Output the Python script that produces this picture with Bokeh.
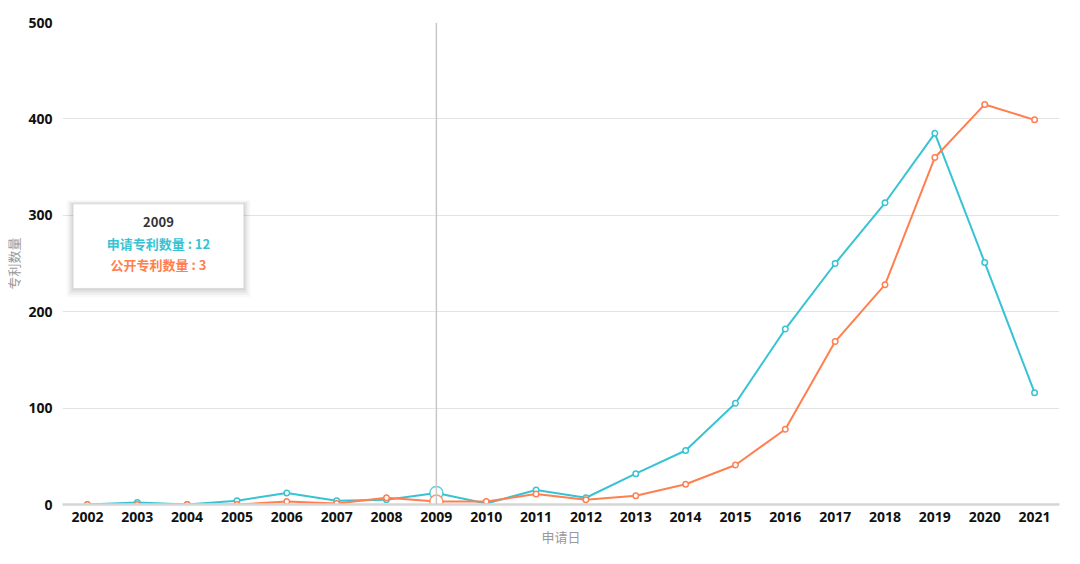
from bokeh.plotting import figure
from bokeh.models import ColumnDataSource, FixedTicker, Range1d, BoxAnnotation, Span, Label
from bokeh.embed import file_html
from bokeh.resources import INLINE

years = list(range(2002, 2022))
apply_counts = [0, 2, 0, 4, 12, 4, 5, 12, 1, 15, 7, 32, 56, 105, 182, 250, 313, 385, 251, 116]
publish_counts = [0, 0, 0, 0, 3, 1, 7, 3, 3, 11, 5, 9, 21, 41, 78, 169, 228, 360, 415, 399]
series_names = ["申请专利数量", "公开专利数量"]
y_ticks = [0, 100, 200, 300, 400, 500]
hover_year = 2009
x_title = "申请日"
y_title = "专利数量"

BLUE = "#37c3d3"
ORANGE = "#ff7f50"
FONT = "Noto Sans CJK SC"
NUM_FONT = "Open Sans"

p = figure(width=1064, height=548, output_backend="svg", toolbar_location=None,
           x_range=Range1d(2001.5, 2021.5), y_range=Range1d(0, 500),
           min_border_left=62, min_border_right=5, min_border_top=22, min_border_bottom=30)
p.outline_line_color = None
p.background_fill_color = "white"
p.border_fill_color = "white"

# x axis
p.xaxis.ticker = FixedTicker(ticks=years)
p.xaxis.major_label_overrides = {y: str(y) for y in years}
p.xaxis.axis_line_color = "#d6d6d6"
p.xaxis.axis_line_width = 2.5
p.xaxis.major_tick_line_color = None
p.xaxis.minor_tick_line_color = None
p.xaxis.major_tick_out = 0
p.xaxis.major_tick_in = 0
p.xaxis.minor_tick_out = 0
p.xaxis.major_label_text_font = NUM_FONT
p.xaxis.major_label_text_font_style = "bold"
p.xaxis.major_label_text_font_size = "14px"
p.xaxis.major_label_text_color = "#111111"
p.xaxis.major_label_standoff = 7
p.xaxis.axis_label = x_title
p.xaxis.axis_label_text_font = FONT
p.xaxis.axis_label_text_font_style = "normal"
p.xaxis.axis_label_text_font_size = "13px"
p.xaxis.axis_label_text_color = "#999999"
p.xaxis.axis_label_standoff = 2

# y axis
p.yaxis.ticker = FixedTicker(ticks=y_ticks)
p.yaxis.axis_line_color = None
p.yaxis.major_tick_line_color = None
p.yaxis.minor_tick_line_color = None
p.yaxis.major_tick_out = 0
p.yaxis.major_tick_in = 0
p.yaxis.minor_tick_out = 0
p.yaxis.major_label_text_font = NUM_FONT
p.yaxis.major_label_text_font_style = "bold"
p.yaxis.major_label_text_font_size = "14px"
p.yaxis.major_label_text_color = "#111111"
p.yaxis.major_label_standoff = 10
p.yaxis.axis_label = y_title
p.yaxis.axis_label_text_font = FONT
p.yaxis.axis_label_text_font_style = "normal"
p.yaxis.axis_label_text_font_size = "13px"
p.yaxis.axis_label_text_color = "#999999"
p.yaxis.axis_label_standoff = 2

p.xgrid.grid_line_color = None
p.ygrid.grid_line_color = "#e3e3e3"
p.ygrid.grid_line_width = 1

# crosshair
p.add_layout(Span(location=hover_year, dimension="height", line_color="#c8c8c8", line_width=1.5))

src = ColumnDataSource(dict(x=years, a=apply_counts, b=publish_counts))
p.line("x", "a", source=src, line_color=BLUE, line_width=2)
p.line("x", "b", source=src, line_color=ORANGE, line_width=2)
p.scatter("x", "a", source=src, size=5.5, fill_color="white", line_color=BLUE, line_width=1.5)
p.scatter("x", "b", source=src, size=5.5, fill_color="white", line_color=ORANGE, line_width=1.5)

hi = years.index(hover_year)
p.scatter([hover_year], [apply_counts[hi]], size=13, fill_color="white", line_color=BLUE,
          line_width=1.5, line_alpha=0.8)
p.scatter([hover_year], [publish_counts[hi]], size=13, fill_color="white", line_color=ORANGE,
          line_width=1.5, line_alpha=0.8)

# static tooltip
tl, tr, tt, tb = 2001.72, 2005.13, 311.5, 224.5
dx, dy = 0.035, 1.7
for k, a in [(4, 0.025), (3, 0.035), (2, 0.045), (1, 0.06)]:
    p.add_layout(BoxAnnotation(left=tl - k * dx, right=tr + k * dx, top=tt + k * dy * 0.6,
                               bottom=tb - k * dy * 1.4, fill_color="black", fill_alpha=a,
                               line_color=None))
p.add_layout(BoxAnnotation(left=tl, right=tr, top=tt, bottom=tb, fill_color="white", fill_alpha=1.0,
                           line_color="#f0f0f0", line_width=1))
cx = (tl + tr) / 2
p.add_layout(Label(x=cx, y=293, text=str(hover_year), text_align="center", text_baseline="middle",
                   text_font=FONT, text_font_style="bold", text_font_size="13px", text_color="#333333"))
p.add_layout(Label(x=cx, y=271, text=f"{series_names[0]} : {apply_counts[hi]}", text_align="center",
                   text_baseline="middle", text_font=FONT, text_font_style="bold", text_font_size="13px",
                   text_color=BLUE))
p.add_layout(Label(x=cx, y=249, text=f"{series_names[1]} : {publish_counts[hi]}", text_align="center",
                   text_baseline="middle", text_font=FONT, text_font_style="bold", text_font_size="13px",
                   text_color=ORANGE))

open("out.html", "w").write(file_html(p, INLINE))
